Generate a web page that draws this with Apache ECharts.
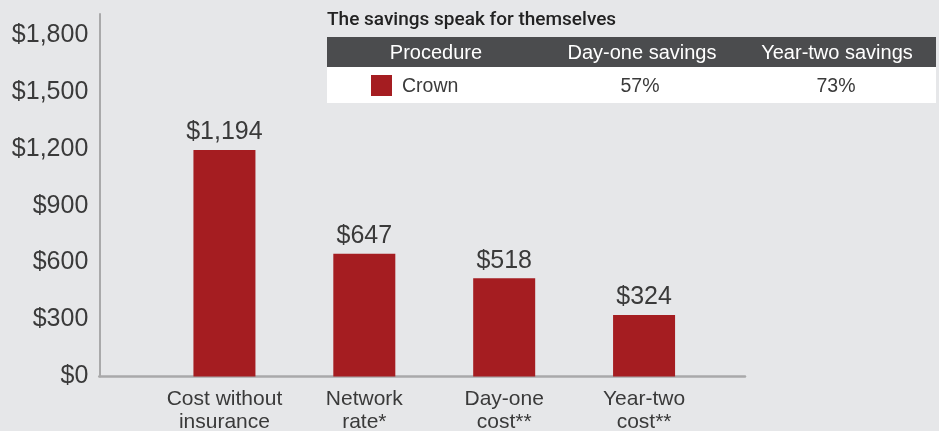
<!DOCTYPE html>
<html>
<head>
<meta charset="utf-8">
<script src="https://cdn.jsdelivr.net/npm/echarts@6/dist/echarts.min.js"></script>
<style>
  html, body { margin: 0; padding: 0; background: #e6e7e9; }
  #chart { width: 939px; height: 431px; }
</style>
</head>
<body>
<div id="chart"></div>
<script>
// Cost categories and their dollar amounts
const categories = ['Cost without\ninsurance', 'Network\nrate*', 'Day-one\ncost**', 'Year-two\ncost**'];
const costs = [1194, 647, 518, 324];

// Value axis ticks
const yTickStep = 300;
const yTickTop = 1800;

// Savings table
const tableTitle = 'The savings speak for themselves';
const tableHeaders = ['Procedure', 'Day-one savings', 'Year-two savings'];
const procedures = ['Crown'];
const dayOneSavings = ['57%'];
const yearTwoSavings = ['73%'];

const BAR = '#a51d21';
const TEXT = '#3a3a3a';
const AXIS = '#a9a9aa';
const FONT = '"Liberation Sans", Arial, Helvetica, sans-serif';

// The axis line runs a little above the top tick, so the scale tops out slightly past it
const plotTop = 14, plotBottom = 431 - 376.4;
const axisMax = yTickTop * (431 - plotBottom - plotTop) / (431 - plotBottom - 35);

const money = v => '$' + v.toLocaleString('en-US');

// Table graphics
const colX = [436, 642, 837];
const tableLeft = 327, tableWidth = 609;
const headerTop = 37, headerH = 30, rowH = 36;
const graphics = [
  { type: 'text', left: tableLeft, top: 11,
    style: { text: tableTitle, font: '500 19px Roboto, ' + FONT, fill: '#222222' } },
  { type: 'rect', shape: { x: tableLeft, y: headerTop, width: tableWidth, height: headerH },
    style: { fill: '#4b4c4e' } }
];
tableHeaders.forEach((h, i) => {
  graphics.push({ type: 'text', x: colX[i], y: headerTop + headerH / 2 + 1,
    style: { text: h, font: '20px ' + FONT, fill: '#ffffff', align: 'center', verticalAlign: 'middle' } });
});
procedures.forEach((p, r) => {
  const y0 = headerTop + headerH + r * rowH;
  const cy = y0 + rowH / 2;
  graphics.push(
    { type: 'rect', shape: { x: tableLeft, y: y0, width: tableWidth, height: rowH }, style: { fill: '#ffffff' } },
    { type: 'rect', shape: { x: 371, y: cy - 10, width: 21, height: 21 }, style: { fill: BAR } },
    { type: 'text', x: 402, y: cy + 2,
      style: { text: p, font: '19.5px ' + FONT, fill: TEXT, align: 'left', verticalAlign: 'middle' } },
    { type: 'text', x: colX[1] - 2, y: cy + 2,
      style: { text: dayOneSavings[r], font: '19.5px ' + FONT, fill: TEXT, align: 'center', verticalAlign: 'middle' } },
    { type: 'text', x: colX[2] - 1, y: cy + 2,
      style: { text: yearTwoSavings[r], font: '19.5px ' + FONT, fill: TEXT, align: 'center', verticalAlign: 'middle' } }
  );
});

const chart = echarts.init(document.getElementById('chart'), null, { renderer: 'canvas' });
chart.setOption({
  backgroundColor: '#e6e7e9',
  animation: false,
  textStyle: { fontFamily: FONT },
  grid: [
    // frame: value axis and baseline
    { left: 99.3, right: 194, top: plotTop, bottom: plotBottom, outerBoundsMode: 'none', containLabel: false },
    // bars and category labels
    { left: 154.5, right: 225, top: plotTop, bottom: plotBottom, outerBoundsMode: 'none', containLabel: false }
  ],
  xAxis: [
    { gridIndex: 0, type: 'value', min: 0, max: 1,
      axisLine: { show: true, lineStyle: { color: AXIS, width: 2.5 } },
      axisTick: { show: false }, axisLabel: { show: false }, splitLine: { show: false } },
    { gridIndex: 1, type: 'category', data: categories,
      axisLine: { show: false }, axisTick: { show: false },
      axisLabel: { color: TEXT, fontSize: 21, lineHeight: 23, margin: 11, interval: 0 } }
  ],
  yAxis: [
    { gridIndex: 0, type: 'value', min: 0, max: axisMax, interval: yTickStep,
      axisLine: { show: true, lineStyle: { color: AXIS, width: 2 } },
      axisTick: { show: false }, splitLine: { show: false },
      axisLabel: { color: TEXT, fontSize: 25, margin: 11,
        formatter: v => (v % yTickStep === 0 && v <= yTickTop) ? money(v) : '' } },
    { gridIndex: 1, type: 'value', min: 0, max: axisMax, show: false }
  ],
  series: [{
    type: 'bar', xAxisIndex: 1, yAxisIndex: 1,
    data: costs, barWidth: 62,
    itemStyle: { color: BAR },
    label: { show: true, position: 'top', distance: 5, color: TEXT, fontSize: 25,
      formatter: p => money(p.value) }
  }],
  graphic: graphics
});
</script>
</body>
</html>
